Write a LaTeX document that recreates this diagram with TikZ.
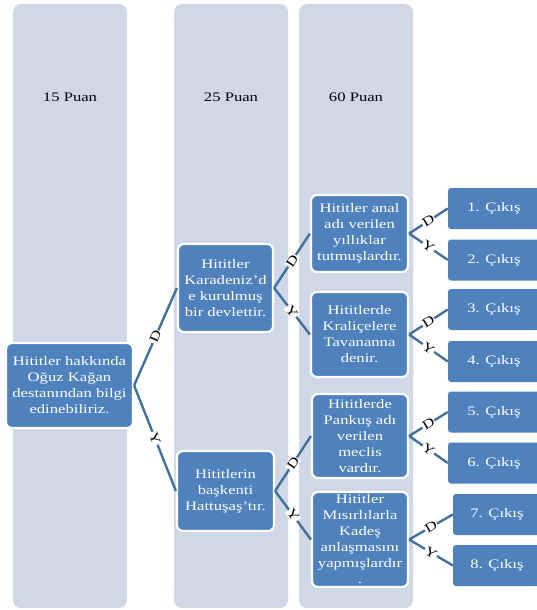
\documentclass[tikz,border=0pt]{standalone}
\usepackage{fontspec}
\setmainfont[FakeStretch=1.28]{Liberation Serif}
\usetikzlibrary{positioning}
\definecolor{colBg}{HTML}{D0D8E8}
\definecolor{boxBlue}{HTML}{4F81BD}
\definecolor{lineBlue}{HTML}{41719C}

\begin{document}
\begin{tikzpicture}[
    x=1pt, y=-1pt,
    column/.style={fill=colBg, rounded corners=8pt, minimum width=114pt, minimum height=604pt},
    head/.style={font=\fontsize{13}{16}\selectfont},
    qbox/.style={draw=white, line width=2.2pt, fill=boxBlue, rounded corners=6pt, text=white, align=center, inner sep=0pt, font=\fontsize{13}{16}\selectfont},
    outbox/.style={fill=boxBlue, rounded corners=3pt, text=white, minimum width=92pt, minimum height=41pt, inner sep=0pt, font=\fontsize{13}{16}\selectfont},
    conn/.style={draw=lineBlue, line width=2.4pt},
    yn/.style={font=\fontsize{13}{13}\selectfont, fill=white, inner sep=0.8pt, sloped}
]
\useasboundingbox (0,0) rectangle (536,610);

% columns
\node[column] (col1) at (70,306) {};
\node[column] (col2) at (231,306) {};
\node[column] (col3) at (356,306) {};
\node[head] (h1) at (70,97) {15 Puan};
\node[head] (h2) at (231,97) {25 Puan};
\node[head] (h3) at (356,97) {60 Puan};

% questions
\node[qbox, minimum width=127pt, minimum height=85pt] (root) at (69.5,385.5) {Hititler hakkında\\Oğuz Kağan\\destanından bilgi\\edinebiliriz.};
\node[qbox, minimum width=95pt, minimum height=88pt] (qa) at (225.5,288) {Hititler\\Karadeniz’d\\e kurulmuş\\bir devlettir.};
\node[qbox, minimum width=97pt, minimum height=80pt] (qb) at (225.5,491) {Hititlerin\\başkenti\\Hattuşaş’tır.};
\node[qbox, minimum width=97pt, minimum height=77pt] (qa1) at (359.5,233.5) {Hititler anal\\adı verilen\\yıllıklar\\tutmuşlardır.};
\node[qbox, minimum width=97pt, minimum height=85pt] (qa2) at (359.5,334.5) {Hititlerde\\Kraliçelere\\Tavananna\\denir.};
\node[qbox, minimum width=96pt, minimum height=84pt] (qb1) at (360,436) {Hititlerde\\Pankuş adı\\verilen\\meclis\\vardır.};
\node[qbox, minimum width=96pt, minimum height=95pt] (qb2) at (360,539.5) {Hititler\\Mısırlılarla\\Kadeş\\anlaşmasını\\yapmışlardır\\.};

% exits
\node[outbox] (o1) at (494,208.5) {1. Çıkış};
\node[outbox] (o2) at (494,260) {2. Çıkış};
\node[outbox] (o3) at (494,309.5) {3. Çıkış};
\node[outbox] (o4) at (494,361.5) {4. Çıkış};
\node[outbox] (o5) at (494,412) {5. Çıkış};
\node[outbox] (o6) at (494,463) {6. Çıkış};
\node[outbox, minimum width=88pt] (o7) at (497,514.5) {7. Çıkış};
\node[outbox, minimum width=88pt] (o8) at (497,565.5) {8. Çıkış};

% connectors
\draw[conn] (root.east) -- node[yn] {D} (qa.west);
\draw[conn] (root.east) -- node[yn] {Y} (qb.west);
\draw[conn] (qa.east) -- node[yn] {D} (qa1.west);
\draw[conn] (qa.east) -- node[yn] {Y} (qa2.west);
\draw[conn] (qb.east) -- node[yn] {D} (qb1.west);
\draw[conn] (qb.east) -- node[yn] {Y} (qb2.west);
\draw[conn] (qa1.east) -- node[yn] {D} (o1.west);
\draw[conn] (qa1.east) -- node[yn] {Y} (o2.west);
\draw[conn] (qa2.east) -- node[yn] {D} (o3.west);
\draw[conn] (qa2.east) -- node[yn] {Y} (o4.west);
\draw[conn] (qb1.east) -- node[yn] {D} (o5.west);
\draw[conn] (qb1.east) -- node[yn] {Y} (o6.west);
\draw[conn] (qb2.east) -- node[yn] {D} (o7.west);
\draw[conn] (qb2.east) -- node[yn] {Y} (o8.west);
\end{tikzpicture}
\end{document}
